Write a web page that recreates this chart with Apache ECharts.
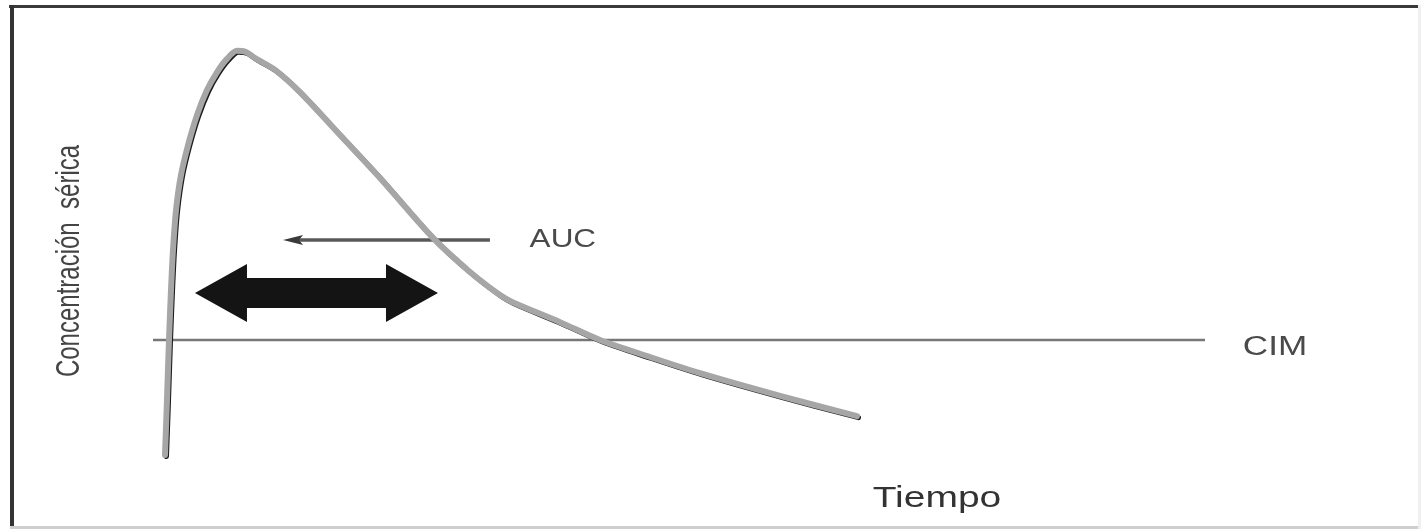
<!DOCTYPE html>
<html>
<head>
<meta charset="utf-8">
<script src="https://cdn.jsdelivr.net/npm/echarts@6/dist/echarts.min.js"></script>
<style>
html,body{margin:0;padding:0;background:#fff;}
#c{width:1421px;height:529px;}
</style>
</head>
<body>
<div id="c"></div>
<script>
// Time (arbitrary units) and serum concentration (% of peak)
var curveTime = [1.14, 1.33, 1.52, 1.71, 1.90, 2.19, 2.66, 3.33, 4.18, 5.13, 6.08, 7.03, 7.98, 8.84,
                 9.70, 11.60, 13.97, 17.78, 21.58, 26.62, 30.13, 32.98, 34.13, 38.69, 42.49,
                 47.24, 52.00, 59.60, 66.92];
var curveConc = [0, 13.6, 28.4, 40.7, 50.6, 60.5, 69.1, 76.5, 83.9, 90.1, 94.5, 97.8, 99.8, 99.5,
                 98.0, 95.1, 89.6, 79.0, 68.4, 53.6, 45.2, 39.5, 37.8, 32.8, 28.4,
                 24.2, 20.2, 14.6, 9.6];
var cimLevel = 28.4;
var cimRange = [0, 100];
var aucArrow = [32.03, 12.36, 53.1];      // from t, to t, at concentration
var doubleArrow = [3.99, 27.09, 40.0];    // left t, right t, at concentration
var labels = {
  yTitle: 'Concentración  sérica',
  xTitle: 'Tiempo',
  auc: 'AUC',
  cim: 'CIM'
};

var chart = echarts.init(document.getElementById('c'), null, {renderer: 'canvas'});
var curveData = curveTime.map(function (t, i) { return [t, curveConc[i]]; });
var cimData = cimRange.map(function (t) { return [t, cimLevel]; });

chart.setOption({
  animation: false,
  backgroundColor: '#ffffff',
  grid: [
    {left: 153, top: 50, width: 1052, height: 405},
    {left: 154.5, top: 51.5, width: 1052, height: 405}   // offset copy for the dark edge of the curve
  ],
  xAxis: [
    {type: 'value', min: 0, max: 100, show: false, gridIndex: 0},
    {type: 'value', min: 0, max: 100, show: false, gridIndex: 1}
  ],
  yAxis: [
    {type: 'value', min: 0, max: 100, show: false, gridIndex: 0},
    {type: 'value', min: 0, max: 100, show: false, gridIndex: 1}
  ],
  series: [
    {
      type: 'line', data: cimData, symbol: 'none', silent: true,
      lineStyle: {color: '#777777', width: 2.5}, z: 1
    },
    {
      type: 'line', data: curveData, symbol: 'none', smooth: 0.3, silent: true, clip: false,
      xAxisIndex: 1, yAxisIndex: 1,
      lineStyle: {color: '#1c1c1c', width: 5, cap: 'round', join: 'round'},
      z: 2
    },
    {
      type: 'line', data: curveData, symbol: 'none', smooth: 0.3, silent: true, clip: false,
      lineStyle: {color: '#a6a6a6', width: 6, cap: 'round', join: 'round'},
      z: 3
    }
  ]
});

function px(t, c) { return chart.convertToPixel({gridIndex: 0}, [t, c]); }

var a1 = px(aucArrow[0], aucArrow[2]);
var a2 = px(aucArrow[1], aucArrow[2]);
var d1 = px(doubleArrow[0], doubleArrow[2]);
var d2 = px(doubleArrow[1], doubleArrow[2]);
var headL = 52, headH = 29, shaftH = 15;
var dy = d1[1];
var dblPts = [
  [d1[0], dy],
  [d1[0] + headL, dy - headH],
  [d1[0] + headL, dy - shaftH],
  [d2[0] - headL, dy - shaftH],
  [d2[0] - headL, dy - headH],
  [d2[0], dy],
  [d2[0] - headL, dy + headH],
  [d2[0] - headL, dy + shaftH],
  [d1[0] + headL, dy + shaftH],
  [d1[0] + headL, dy + headH]
];
var aucLabelPos = px(35.8, 53.1);
var cimLabelPos = px(103.6, 26.5);

chart.setOption({
  graphic: [
    // frame
    {type: 'rect', shape: {x: 9, y: 5, width: 1413, height: 3}, style: {fill: '#3a3a3a'}, silent: true},
    {type: 'rect', shape: {x: 10, y: 5, width: 4, height: 524}, style: {fill: '#333333'}, silent: true},
    {type: 'rect', shape: {x: 10, y: 526, width: 1411, height: 3}, style: {fill: '#cfcfcf'}, silent: true},
    {type: 'rect', shape: {x: 1418, y: 5, width: 3, height: 524}, style: {fill: '#f0f0f0'}, silent: true},
    // AUC thin arrow
    {type: 'line', shape: {x1: a1[0], y1: a1[1], x2: a2[0] + 12, y2: a2[1]},
     style: {stroke: '#5a5a5a', lineWidth: 3.5}, z: 2, silent: true},
    {type: 'polygon', shape: {points: [[a2[0], a2[1]], [a2[0] + 20, a2[1] - 5], [a2[0] + 16, a2[1]], [a2[0] + 20, a2[1] + 5]]},
     style: {fill: '#3a3a3a'}, z: 2, silent: true},
    // thick double arrow
    {type: 'polygon', shape: {points: dblPts}, style: {fill: '#141414'}, z: 2, silent: true},
    // texts
    {type: 'text', x: aucLabelPos[0], y: aucLabelPos[1], scaleX: 1.26,
     style: {text: labels.auc, fill: '#4a4a4a', font: '25px "Liberation Sans", Arial, sans-serif',
             textAlign: 'left', textVerticalAlign: 'middle'}, silent: true},
    {type: 'text', x: cimLabelPos[0], y: cimLabelPos[1], scaleX: 1.3,
     style: {text: labels.cim, fill: '#4a4a4a', font: '27px "Liberation Sans", Arial, sans-serif',
             textAlign: 'left', textVerticalAlign: 'middle'}, silent: true},
    {type: 'text', x: 937, y: 499, scaleX: 1.3,
     style: {text: labels.xTitle, fill: '#333333', font: '30px "Liberation Sans", Arial, sans-serif',
             textAlign: 'center', textVerticalAlign: 'middle'}, silent: true},
    {type: 'text', x: 70, y: 261, rotation: Math.PI / 2, scaleY: 1.35,
     style: {text: labels.yTitle, fill: '#444444', font: '24px "Liberation Sans", Arial, sans-serif',
             textAlign: 'center', textVerticalAlign: 'middle'}, silent: true}
  ]
});
</script>
</body>
</html>
